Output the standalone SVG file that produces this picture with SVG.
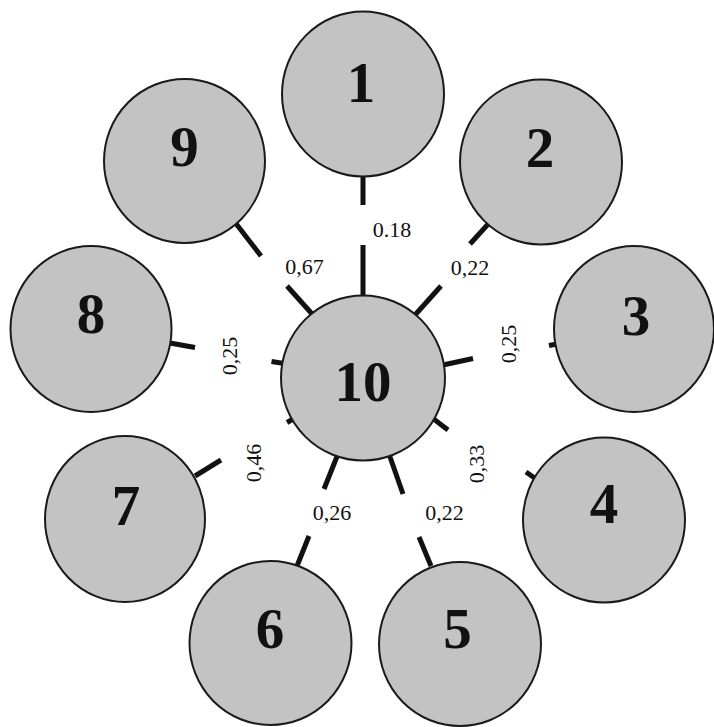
<svg xmlns="http://www.w3.org/2000/svg" width="714" height="727" viewBox="0 0 714 727">
<style>
.node ellipse{fill:#c3c3c3;stroke:#1a1a1a;stroke-width:2}
.node text{font-family:"Liberation Serif","Times New Roman",serif;font-weight:bold;font-size:57px;fill:#111;text-anchor:middle}
.edge{stroke:#111;stroke-width:5;stroke-linecap:butt}
.lbl{font-family:"Liberation Serif","Times New Roman",serif;font-size:22px;fill:#111;text-anchor:middle}
</style>
<rect width="714" height="727" fill="#ffffff"/>
<g id="connectors">
  <!-- 1-10 -->
  <line class="edge" x1="363" y1="174" x2="363" y2="205"/>
  <line class="edge" x1="363" y1="245" x2="363" y2="297"/>
  <text class="lbl" x="392" y="237">0.18</text>
  <!-- 9-10 -->
  <line class="edge" x1="234" y1="221" x2="261" y2="256"/>
  <line class="edge" x1="287" y1="286" x2="313" y2="315"/>
  <text class="lbl" x="304.5" y="274">0,67</text>
  <!-- 2-10 -->
  <line class="edge" x1="490" y1="222" x2="470" y2="244"/>
  <line class="edge" x1="441" y1="286" x2="415" y2="315"/>
  <text class="lbl" x="470" y="275">0,22</text>
  <!-- 3-10 -->
  <line class="edge" x1="443" y1="365" x2="473" y2="358.5"/>
  <line class="edge" x1="549" y1="345.5" x2="557" y2="344"/>
  <text class="lbl" transform="translate(516 344) rotate(-90)">0,25</text>
  <!-- 4-10 -->
  <line class="edge" x1="433" y1="418.5" x2="448" y2="430"/>
  <line class="edge" x1="526" y1="472" x2="536" y2="479"/>
  <text class="lbl" transform="translate(484 464) rotate(-90)">0,33</text>
  <!-- 5-10 -->
  <line class="edge" x1="389" y1="454" x2="403" y2="494"/>
  <line class="edge" x1="419" y1="537" x2="431" y2="566"/>
  <text class="lbl" x="444.5" y="520">0,22</text>
  <!-- 6-10 -->
  <line class="edge" x1="338" y1="454" x2="324" y2="489"/>
  <line class="edge" x1="309" y1="536" x2="297" y2="566"/>
  <text class="lbl" x="332" y="520">0,26</text>
  <!-- 7-10 -->
  <line class="edge" x1="221" y1="460" x2="195" y2="476"/>
  <line class="edge" x1="294" y1="418.5" x2="287" y2="422.5"/>
  <text class="lbl" transform="translate(261 463) rotate(-90)">0,46</text>
  <!-- 8-10 -->
  <line class="edge" x1="170" y1="343" x2="195" y2="347.5"/>
  <line class="edge" x1="271.5" y1="361.5" x2="284" y2="363.5"/>
  <text class="lbl" transform="translate(237 356) rotate(-90)">0,25</text>
</g>
<g id="node-1" class="node"><ellipse cx="363" cy="94" rx="81" ry="82.5"/><text x="361" y="101.5">1</text></g>
<g id="node-2" class="node"><ellipse cx="541" cy="162" rx="81" ry="82.5"/><text x="540" y="167">2</text></g>
<g id="node-3" class="node"><ellipse cx="634" cy="329" rx="80" ry="83"/><text x="636" y="335">3</text></g>
<g id="node-4" class="node"><ellipse cx="604" cy="520" rx="81" ry="82.5"/><text x="604" y="523">4</text></g>
<g id="node-5" class="node"><ellipse cx="460" cy="644" rx="81" ry="82"/><text x="457.5" y="648">5</text></g>
<g id="node-6" class="node"><ellipse cx="270.5" cy="643" rx="81" ry="82"/><text x="270" y="648">6</text></g>
<g id="node-7" class="node"><ellipse cx="125" cy="519" rx="80" ry="83"/><text x="126" y="525">7</text></g>
<g id="node-8" class="node"><ellipse cx="91" cy="329" rx="80.5" ry="83"/><text x="91" y="333">8</text></g>
<g id="node-9" class="node"><ellipse cx="184.5" cy="161" rx="80.5" ry="82"/><text x="184.5" y="166">9</text></g>
<g id="node-10" class="node"><ellipse cx="363" cy="378" rx="82" ry="82.5"/><text x="363" y="401">10</text></g>
</svg>
